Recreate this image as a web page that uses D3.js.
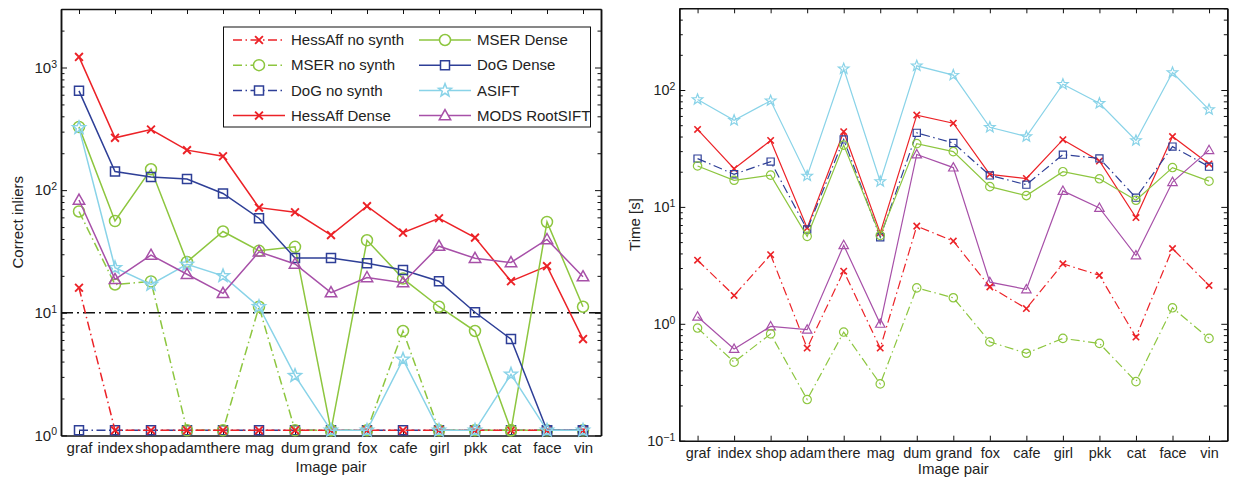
<!DOCTYPE html>
<html>
<head>
<meta charset="utf-8">
<script src="https://cdn.jsdelivr.net/npm/d3@7"></script>
<style>
  body { margin: 0; background: #fff; }
  svg { display: block; font-family: "Liberation Sans", Arial, sans-serif; }
</style>
</head>
<body>
<div id="graph"></div>
<script>
// image pairs (x axis of both panels)
const categories = ["graf", "index", "shop", "adam", "there", "mag", "dum", "grand", "fox", "cafe", "girl", "pkk", "cat", "face", "vin"];

// left panel: correct inliers (1.1 = nothing found, drawn at the bottom)
const inlHessNoSynth = [16, 1.1, 1.1, 1.1, 1.1, 1.1, 1.1, 1.1, 1.1, 1.1, 1.1, 1.1, 1.1, 1.1, 1.1];
const inlMserNoSynth = [67, 17, 18, 1.1, 1.1, 11.2, 1.1, 1.1, 1.1, 7.1, 1.1, 1.1, 1.1, 1.1, 1.1];
const inlDogNoSynth  = [1.1, 1.1, 1.1, 1.1, 1.1, 1.1, 1.1, 1.1, 1.1, 1.1, 1.1, 1.1, 1.1, 1.1, 1.1];
const inlHessDense   = [1220, 267, 312, 212, 189, 72, 66, 43, 74, 45, 59, 41, 18.1, 24, 6.1];
const inlMserDense   = [328, 56, 148, 26, 46, 32, 34.5, 1.1, 39, 19, 11.2, 7.1, 1.1, 55, 11.2];
const inlDogDense    = [645, 142, 128, 123, 94, 59, 28, 28, 25.3, 22.3, 18.1, 10.1, 6.1, 1.1, 1.1];
const inlAsift       = [322, 23.3, 17, 24.8, 20, 11.2, 3.07, 1.1, 1.1, 4.17, 1.1, 1.1, 3.15, 1.1, 1.1];
const inlMods        = [83, 18.7, 29.5, 20.6, 14.4, 31.4, 25, 14.6, 19.4, 17.6, 34.9, 27.8, 25.7, 39.6, 19.7];
const inlThreshold = 10;

// right panel: time [s]
const timeAsift       = [83, 55, 81, 18.4, 152, 16.5, 161, 134, 48, 40, 112, 77, 37, 141, 68];
const timeHessDense   = [46, 21.2, 37, 6.6, 44, 6.0, 61, 52, 19, 17.5, 37.6, 24.7, 8.1, 40, 23.3];
const timeDogNoSynth  = [25.9, 19, 24.4, 6.4, 37.8, 5.5, 43, 35.2, 18.6, 15.5, 28, 26, 12, 32.8, 22.1];
const timeMserDense   = [22.4, 16.9, 18.7, 5.6, 33.8, 5.7, 34.8, 29.7, 14.9, 12.5, 20, 17.4, 11.4, 21.7, 16.6];
const timeMods        = [1.15, 0.61, 0.95, 0.89, 4.7, 1.0, 28.1, 21.7, 2.27, 1.97, 13.7, 9.8, 3.84, 16.3, 30.6];
const timeHessNoSynth = [3.5, 1.75, 3.9, 0.62, 2.82, 0.62, 6.85, 5.1, 2.07, 1.35, 3.26, 2.6, 0.77, 4.4, 2.13];
const timeMserNoSynth = [0.92, 0.47, 0.82, 0.225, 0.85, 0.306, 2.03, 1.67, 0.70, 0.56, 0.75, 0.68, 0.32, 1.37, 0.75];

const RED = "#ec2227", GREEN = "#8dc63f", BLUE = "#2e3f97", CYAN = "#89d3e8", PURPLE = "#a750a8";
const DASHDOT = "9,3.5,1.5,3.5";

const legendSeries = [
  { name: "HessAff no synth", values: inlHessNoSynth, color: RED,    dash: DASHDOT, marker: "x" },
  { name: "MSER no synth",    values: inlMserNoSynth, color: GREEN,  dash: DASHDOT, marker: "o" },
  { name: "DoG no synth",     values: inlDogNoSynth,  color: BLUE,   dash: DASHDOT, marker: "s" },
  { name: "HessAff Dense",    values: inlHessDense,   color: RED,    dash: null,    marker: "x" },
  { name: "MSER Dense",       values: inlMserDense,   color: GREEN,  dash: null,    marker: "o" },
  { name: "DoG Dense",        values: inlDogDense,    color: BLUE,   dash: null,    marker: "s" },
  { name: "ASIFT",            values: inlAsift,       color: CYAN,   dash: null,    marker: "*" },
  { name: "MODS RootSIFT",    values: inlMods,        color: PURPLE, dash: null,    marker: "^" }
];
const inlierDrawOrder = [2, 1, 0, 3, 4, 5, 6, 7].map(i => legendSeries[i]);

const timeSeries = [
  { values: timeAsift,       color: CYAN,   dash: null,    marker: "*" },
  { values: timeHessDense,   color: RED,    dash: null,    marker: "x" },
  { values: timeDogNoSynth,  color: BLUE,   dash: DASHDOT, marker: "s" },
  { values: timeMserDense,   color: GREEN,  dash: null,    marker: "o" },
  { values: timeMods,        color: PURPLE, dash: null,    marker: "^" },
  { values: timeHessNoSynth, color: RED,    dash: DASHDOT, marker: "x" },
  { values: timeMserNoSynth, color: GREEN,  dash: DASHDOT, marker: "o" }
];

const width = 1234;
const height = 477;

const svg = d3.select("#graph")
              .append("svg")
              .attr("width", width)
              .attr("height", height);

svg.append("rect").attr("width", width).attr("height", height).attr("fill", "#fff");

function markerPath(type, s) {
  if (type === "x") return `M${-s},${-s}L${s},${s}M${-s},${s}L${s},${-s}`;
  if (type === "o") return `M${s},0A${s},${s} 0 1,1 ${-s},0A${s},${s} 0 1,1 ${s},0Z`;
  if (type === "s") return `M${-s},${-s}H${s}V${s}H${-s}Z`;
  if (type === "^") return `M0,${-s * 1.15}L${s * 1.1},${s * 0.8}L${-s * 1.1},${s * 0.8}Z`;
  // pentagram
  const pts = d3.range(10).map(i => {
    const r = i % 2 ? s * 0.42 : s;
    const a = -Math.PI / 2 + i * Math.PI / 5;
    return [r * Math.cos(a), r * Math.sin(a)];
  });
  return "M" + pts.map(p => p.join(",")).join("L") + "Z";
}

const markerSize = {
  big:   { x: 3.9, o: 5.5, s: 4.5, "^": 5.2, "*": 6.8 },
  small: { x: 3.2, o: 4.2, s: 3.6, "^": 4.3, "*": 5.6 }
};

function superLabels(g) {
  g.selectAll(".tick text").each(function(d) {
    const e = Math.round(Math.log10(d));
    const t = d3.select(this).text("");
    t.append("tspan").text("10");
    t.append("tspan").attr("dy", "-0.5em").attr("font-size", "10.5px")
     .text(e < 0 ? "\u2212" + (-e) : e);
  });
}

function drawPanel(p) {
  const x = d3.scalePoint()
              .domain(categories)
              .range([p.x0, p.x1])
              .padding(0.5);
  const y = d3.scaleLog()
              .domain(p.domain)
              .range([p.y1, p.y0]);

  const lo = Math.round(Math.log10(p.domain[0]));
  const hi = Math.floor(Math.log10(p.domain[1]));
  const majors = d3.range(lo, hi + 1).map(e => Math.pow(10, e));
  const minors = [];
  majors.forEach(m => d3.range(2, 10).forEach(k => { if (k * m <= p.domain[1]) minors.push(k * m); }));

  const axisStyle = g => {
    g.selectAll("path.domain").attr("stroke", "#111").attr("stroke-width", 1.5);
    g.selectAll(".tick line").attr("stroke", "#111").attr("stroke-width", 1);
    g.selectAll(".tick text").attr("fill", "#222").style("font-size", p.fontSize + "px");
  };

  svg.append("g")
     .attr("transform", `translate(${p.x0},0)`)
     .call(d3.axisLeft(y).tickValues(minors).tickSize(-3.5).tickSizeOuter(0).tickFormat(""))
     .call(axisStyle);
  svg.append("g")
     .attr("transform", `translate(${p.x1},0)`)
     .call(d3.axisRight(y).tickValues(minors).tickSize(-3.5).tickSizeOuter(0).tickFormat(""))
     .call(axisStyle);
  svg.append("g")
     .attr("transform", `translate(${p.x0},0)`)
     .call(d3.axisLeft(y).tickValues(majors).tickSize(-6).tickSizeOuter(0).tickPadding(4))
     .call(axisStyle)
     .call(superLabels);
  svg.append("g")
     .attr("transform", `translate(${p.x1},0)`)
     .call(d3.axisRight(y).tickValues(majors).tickSize(-6).tickSizeOuter(0).tickFormat(""))
     .call(axisStyle);
  svg.append("g")
     .attr("transform", `translate(0,${p.y1})`)
     .call(d3.axisBottom(x).tickSize(-5).tickSizeOuter(0).tickPadding(7))
     .call(axisStyle);
  svg.append("g")
     .attr("transform", `translate(0,${p.y0})`)
     .call(d3.axisTop(x).tickSize(-5).tickSizeOuter(0).tickFormat(""))
     .call(axisStyle);

  if (p.threshold) {
    svg.append("line")
       .attr("x1", p.x0).attr("x2", p.x1)
       .attr("y1", y(p.threshold)).attr("y2", y(p.threshold))
       .attr("stroke", "#111")
       .attr("stroke-width", 1.6)
       .attr("stroke-dasharray", "12,4,2,4");
  }

  const line = d3.line()
                 .x((d, i) => x(categories[i]))
                 .y(d => y(d));

  p.series.forEach(s => {
    svg.append("path")
       .datum(s.values)
       .attr("d", line)
       .attr("fill", "none")
       .attr("stroke", s.color)
       .attr("stroke-width", p.lineWidth)
       .attr("stroke-dasharray", s.dash);
    svg.selectAll(null)
       .data(s.values)
       .enter()
       .append("path")
       .attr("transform", (d, i) => `translate(${x(categories[i])},${y(d)})`)
       .attr("d", markerPath(s.marker, markerSize[p.markers][s.marker]))
       .attr("fill", "none")
       .attr("stroke", s.color)
       .attr("stroke-width", s.marker === "x" ? p.lineWidth + 0.4 : p.lineWidth);
  });

  svg.append("text")
     .attr("transform", `translate(${p.yLabelX},${(p.y0 + p.y1) / 2}) rotate(-90)`)
     .attr("text-anchor", "middle")
     .attr("fill", "#222")
     .style("font-size", "15px")
     .text(p.yLabel);

  svg.append("text")
     .attr("x", (p.x0 + p.x1) / 2)
     .attr("y", p.xLabelY)
     .attr("text-anchor", "middle")
     .attr("fill", "#222")
     .style("font-size", "15px")
     .text("Image pair");
}

drawPanel({
  x0: 61, x1: 601, y0: 9, y1: 435.4, domain: [1, 3000],
  series: inlierDrawOrder, threshold: inlThreshold,
  lineWidth: 1.5, markers: "big", fontSize: 15,
  yLabel: "Correct inliers", yLabelX: 23, xLabelY: 472
});

drawPanel({
  x0: 679.3, x1: 1227.3, y0: 8.3, y1: 440.7, domain: [0.1, 500],
  series: timeSeries,
  lineWidth: 1.2, markers: "small", fontSize: 14.4,
  yLabel: "Time [s]", yLabelX: 640, xLabelY: 474
});

// legend of the left panel
const legend = svg.append("g");
legend.append("rect")
      .attr("x", 223.5).attr("y", 27)
      .attr("width", 367).attr("height", 100)
      .attr("fill", "#fff")
      .attr("stroke", "#111")
      .attr("stroke-width", 1);

legendSeries.forEach((s, i) => {
  const col = Math.floor(i / 4);
  const row = i % 4;
  const lx = col === 0 ? 233 : 419;
  const ly = 40 + row * 25.2;
  const g = legend.append("g").attr("transform", `translate(${lx},${ly})`);
  g.append("line")
   .attr("x1", 0).attr("x2", 52)
   .attr("stroke", s.color)
   .attr("stroke-width", 1.5)
   .attr("stroke-dasharray", s.dash);
  g.append("path")
   .attr("transform", "translate(26,0)")
   .attr("d", markerPath(s.marker, markerSize.big[s.marker]))
   .attr("fill", "#fff")
   .attr("stroke", s.color)
   .attr("stroke-width", s.marker === "x" ? 1.9 : 1.5);
  g.append("text")
   .attr("x", 58)
   .attr("dy", "0.35em")
   .attr("fill", "#222")
   .style("font-size", "15px")
   .text(s.name);
});
</script>
</body>
</html>
